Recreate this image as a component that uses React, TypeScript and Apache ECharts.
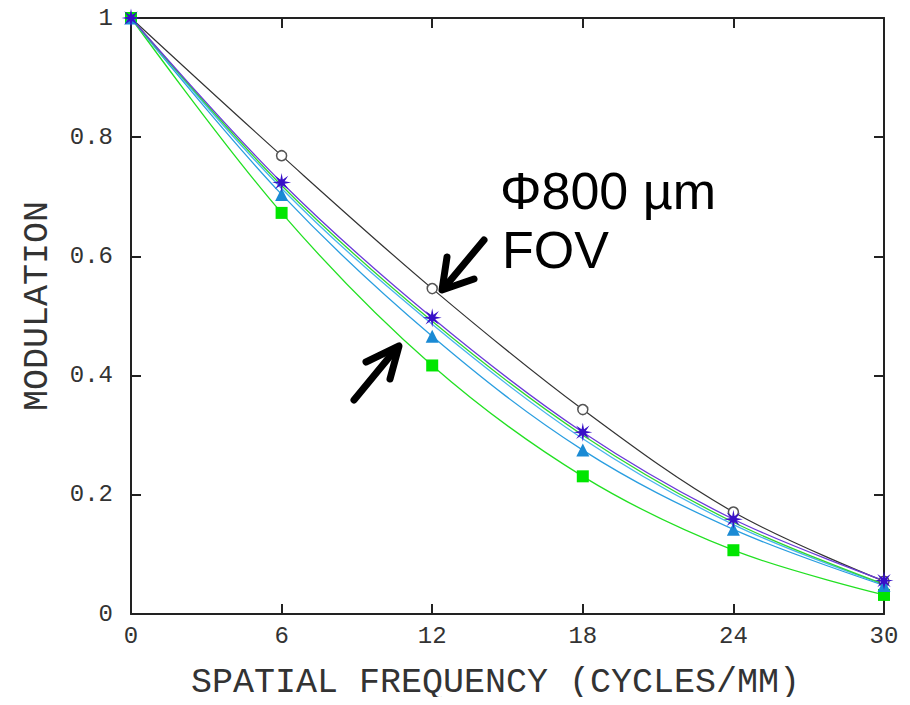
import React, { useEffect, useRef } from "react";
import * as echarts from "echarts";

const frequencies = [0, 6, 12, 18, 24, 30];
const xTicks = [0, 6, 12, 18, 24, 30];
const yTicks = [0, 0.2, 0.4, 0.6, 0.8, 1];

const circleSeries = [1, 0.769, 0.546, 0.343, 0.171, 0.055];
const starSeries = [1, 0.724, 0.497, 0.305, 0.159, 0.056];
const greenUpperSeries = [1, 0.719, 0.491, 0.3, 0.154, 0.05];
const lightBlueSeries = [1, 0.714, 0.486, 0.294, 0.15, 0.049];
const triangleSeries = [1, 0.704, 0.466, 0.275, 0.142, 0.048];
const squareSeries = [1, 0.673, 0.417, 0.231, 0.107, 0.032];

function asteriskPath(): string {
  const pts: string[] = [];
  for (let k = 0; k < 16; k++) {
    const a = (k * Math.PI) / 8;
    const r = k % 2 === 0 ? 10 : 3.4;
    pts.push(`${(r * Math.cos(a)).toFixed(2)} ${(r * Math.sin(a)).toFixed(2)}`);
  }
  return "path://M" + pts.join(" L") + " Z";
}

const pairs = (ys: number[]) => frequencies.map((x, i) => [x, ys[i]]);

export default function App() {
  const ref = useRef<HTMLDivElement>(null);
  useEffect(() => {
    if (!ref.current) return;
    const chart = echarts.init(ref.current, null, { renderer: "svg" });
    const mono = "Liberation Mono";
    const axisLine = { show: true, onZero: false, lineStyle: { color: "#222", width: 2 } };
    const tick = { show: true, inside: true, length: 10, lineStyle: { color: "#222", width: 2 } };
    const lineSeries = (
      name: string,
      data: number[],
      color: string,
      symbol: string,
      size: number,
      extra: any = {}
    ) => ({
      name,
      type: "line",
      data: pairs(data),
      smooth: 0.35,
      symbol,
      symbolSize: size,
      showSymbol: symbol !== "none",
      lineStyle: { color, width: 1.3 },
      itemStyle: { color, borderWidth: 0 },
      ...extra,
    });
    chart.setOption({
      animation: false,
      backgroundColor: "#fff",
      grid: { left: 131, right: 26, top: 18, bottom: 90 },
      xAxis: [
        {
          type: "value",
          min: 0,
          max: 30,
          interval: 6,
          axisLine,
          axisTick: tick,
          splitLine: { show: false },
          axisLabel: { color: "#333", fontFamily: mono, fontSize: 24, margin: 10 },
          name: "SPATIAL FREQUENCY (CYCLES/MM)",
          nameLocation: "middle",
          nameGap: 51,
          nameTextStyle: { color: "#333", fontFamily: mono, fontSize: 35, padding: [0, 24, 0, 0] },
        },
        {
          type: "value",
          position: "top",
          min: 0,
          max: 30,
          interval: 6,
          axisLine,
          axisTick: tick,
          axisLabel: { show: false },
          splitLine: { show: false },
        },
      ],
      yAxis: [
        {
          type: "value",
          min: 0,
          max: 1,
          interval: 0.2,
          axisLine,
          axisTick: tick,
          splitLine: { show: false },
          axisLabel: { color: "#333", fontFamily: mono, fontSize: 24, margin: 18 },
          name: "MODULATION",
          nameLocation: "middle",
          nameRotate: 90,
          nameGap: 76,
          nameTextStyle: { color: "#333", fontFamily: mono, fontSize: 35, padding: [0, 0, 0, 20] },
        },
        {
          type: "value",
          position: "right",
          min: 0,
          max: 1,
          interval: 0.2,
          axisLine,
          axisTick: tick,
          axisLabel: { show: false },
          splitLine: { show: false },
        },
      ],
      series: [
        lineSeries("circle", circleSeries, "#333333", "circle", 10, {
          itemStyle: { color: "#ffffff", borderColor: "#555", borderWidth: 1.5 },
          lineStyle: { color: "#333", width: 1.2 },
        }),
        lineSeries("square", squareSeries, "#22e022", "rect", 12, {
          itemStyle: { color: "#00e600" },
        }),
        lineSeries("triangle", triangleSeries, "#2a9ee0", "triangle", 13, {
          itemStyle: { color: "#1a8ad4" },
        }),
        lineSeries("lightblue", lightBlueSeries, "#48b4ee", "none", 0),
        lineSeries("greenUpper", greenUpperSeries, "#2fd82f", "none", 0),
        lineSeries("star", starSeries, "#6a3ad8", asteriskPath(), 19, {
          itemStyle: { color: "#3810c8" },
        }),
      ],
      graphic: [
        {
          type: "text",
          left: 500,
          top: 165,
          style: {
            text: "Φ800 µm",
            font: "52px 'Liberation Sans', Arial, sans-serif",
            fill: "#000",
          },
        },
        {
          type: "text",
          left: 502,
          top: 224,
          style: {
            text: "FOV",
            font: "52px 'Liberation Sans', Arial, sans-serif",
            fill: "#000",
          },
        },
        {
          type: "line",
          shape: { x1: 484, y1: 240, x2: 444, y2: 288 },
          style: { stroke: "#000", lineWidth: 7, lineCap: "round" },
        },
        {
          type: "polyline",
          shape: { points: [[447, 257], [442, 290], [474, 279]] },
          style: { stroke: "#000", lineWidth: 7, lineCap: "round", lineJoin: "round", fill: "none" },
        },
        {
          type: "line",
          shape: { x1: 354, y1: 400, x2: 396, y2: 349 },
          style: { stroke: "#000", lineWidth: 7, lineCap: "round" },
        },
        {
          type: "polyline",
          shape: { points: [[366, 362], [399, 346], [390, 379]] },
          style: { stroke: "#000", lineWidth: 7, lineCap: "round", lineJoin: "round", fill: "none" },
        },
      ],
    });
    return () => chart.dispose();
  }, []);
  return <div ref={ref} style={{ width: 910, height: 705, margin: -8 }} />;
}
